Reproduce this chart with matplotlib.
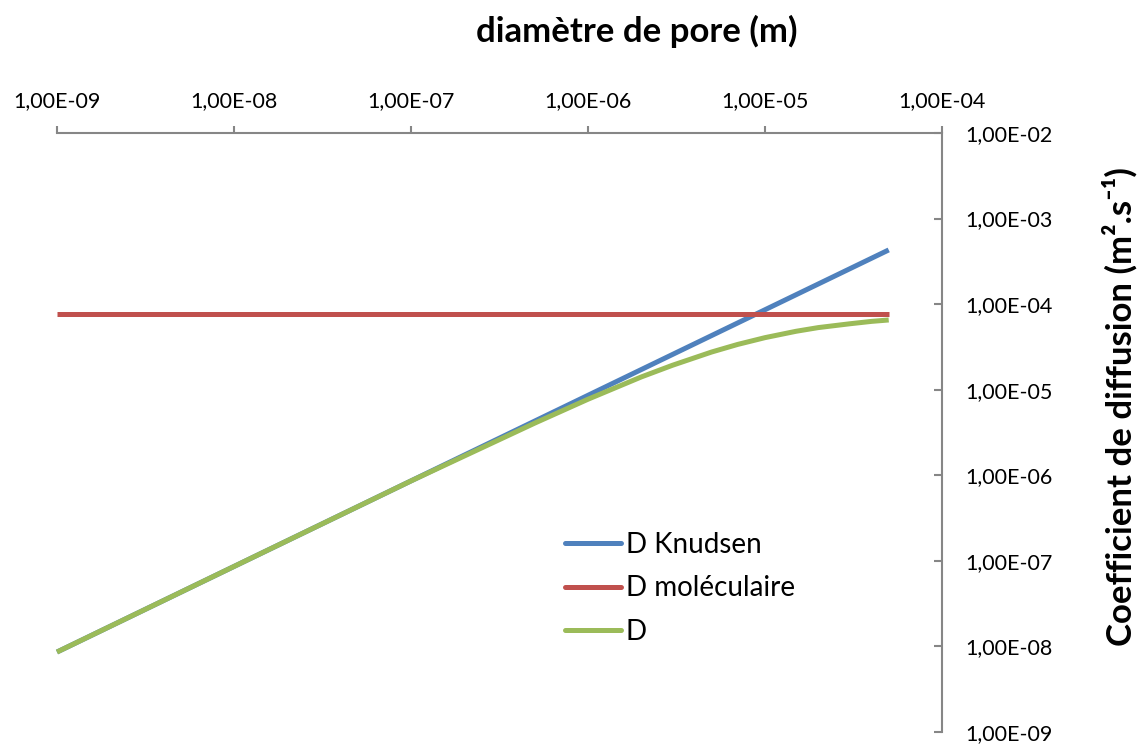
import matplotlib
matplotlib.use("Agg")
import matplotlib.pyplot as plt
from matplotlib.ticker import FixedLocator, NullLocator

plt.rcParams['font.family'] = ['Lato', 'DejaVu Sans']

# Data
diametre = [1e-9, 1e-8, 1e-7, 5e-7, 1e-6, 2e-6, 3e-6, 5e-6, 7e-6, 1e-5, 1.5e-5, 2e-5, 3e-5, 4e-5, 5e-5]
d_knudsen = [8.6e-9, 8.6e-8, 8.6e-7, 4.3e-6, 8.6e-6, 1.72e-5, 2.58e-5, 4.3e-5, 6.02e-5, 8.6e-5,
             1.29e-4, 1.72e-4, 2.58e-4, 3.44e-4, 4.3e-4]
d_moleculaire = [7.7e-5] * 15
d_total = [8.6e-9, 8.6e-8, 8.59e-7, 4.07e-6, 7.74e-6, 1.41e-5, 1.93e-5, 2.76e-5, 3.38e-5, 4.06e-5,
           4.82e-5, 5.32e-5, 5.89e-5, 6.29e-5, 6.53e-5]

x_ticks = [1e-9, 1e-8, 1e-7, 1e-6, 1e-5, 1e-4]
x_labels = ["1,00E-09", "1,00E-08", "1,00E-07", "1,00E-06", "1,00E-05", "1,00E-04"]
y_ticks = [1e-9, 1e-8, 1e-7, 1e-6, 1e-5, 1e-4, 1e-3, 1e-2]
y_labels = ["1,00E-09", "1,00E-08", "1,00E-07", "1,00E-06", "1,00E-05", "1,00E-04", "1,00E-03", "1,00E-02"]

W, H = 1146, 744
fig = plt.figure(figsize=(W / 100, H / 100), dpi=100)
ax = fig.add_axes([57 / W, 1 - 732 / H, (942 - 57) / W, (732 - 133) / H])

blue = '#4F81BD'
red = '#C0504D'
green = '#9BBB59'
lw = 3.6
ax.plot(diametre, d_knudsen, color=blue, lw=lw, label='D Knudsen', solid_capstyle='butt', clip_on=False)
ax.plot(diametre, d_moleculaire, color=red, lw=lw, label='D moléculaire', solid_capstyle='butt', clip_on=False)
ax.plot(diametre, d_total, color=green, lw=lw, label='D', solid_capstyle='butt', clip_on=False)

ax.set_xscale('log')
ax.set_yscale('log')
ax.set_xlim(1e-9, 1e-4)
ax.set_ylim(1e-9, 1e-2)

gray = '#868686'
for s in ['left', 'bottom']:
    ax.spines[s].set_visible(False)
for s in ['top', 'right']:
    ax.spines[s].set_color(gray)
    ax.spines[s].set_linewidth(1.5)

ax.xaxis.set_ticks_position('top')
ax.xaxis.set_label_position('top')
ax.yaxis.set_ticks_position('right')
ax.yaxis.set_label_position('right')
ax.xaxis.set_major_locator(FixedLocator(x_ticks))
ax.xaxis.set_minor_locator(NullLocator())
ax.yaxis.set_major_locator(FixedLocator(y_ticks))
ax.yaxis.set_minor_locator(NullLocator())
ax.set_xticklabels(x_labels)
ax.set_yticklabels(y_labels)
ax.tick_params(axis='x', direction='out', length=5, width=1.5, color=gray, pad=11, labelsize=15.5, labelcolor='black')
ax.tick_params(axis='y', direction='in', length=6, width=1.5, color=gray, pad=17, labelsize=15.5, labelcolor='black')

fig.text(637 / W, 1 - 31 / H, 'diamètre de pore (m)', ha='center', va='center',
         fontsize=25, fontweight='bold')
fig.text(1120 / W, 1 - 407 / H, 'Coefficient de diffusion (m².s⁻¹)',
         ha='center', va='center', rotation=90, fontsize=25, fontweight='bold')

leg = ax.legend(loc='upper left', bbox_to_anchor=(565 / W, 1 - 532 / H), bbox_transform=fig.transFigure,
                frameon=False, fontsize=20, handlelength=2.0, handletextpad=0.18, labelspacing=0.63,
                borderaxespad=0, borderpad=0)
for h in leg.get_lines():
    h.set_solid_capstyle('round')

fig.savefig('out.png', dpi=100)
